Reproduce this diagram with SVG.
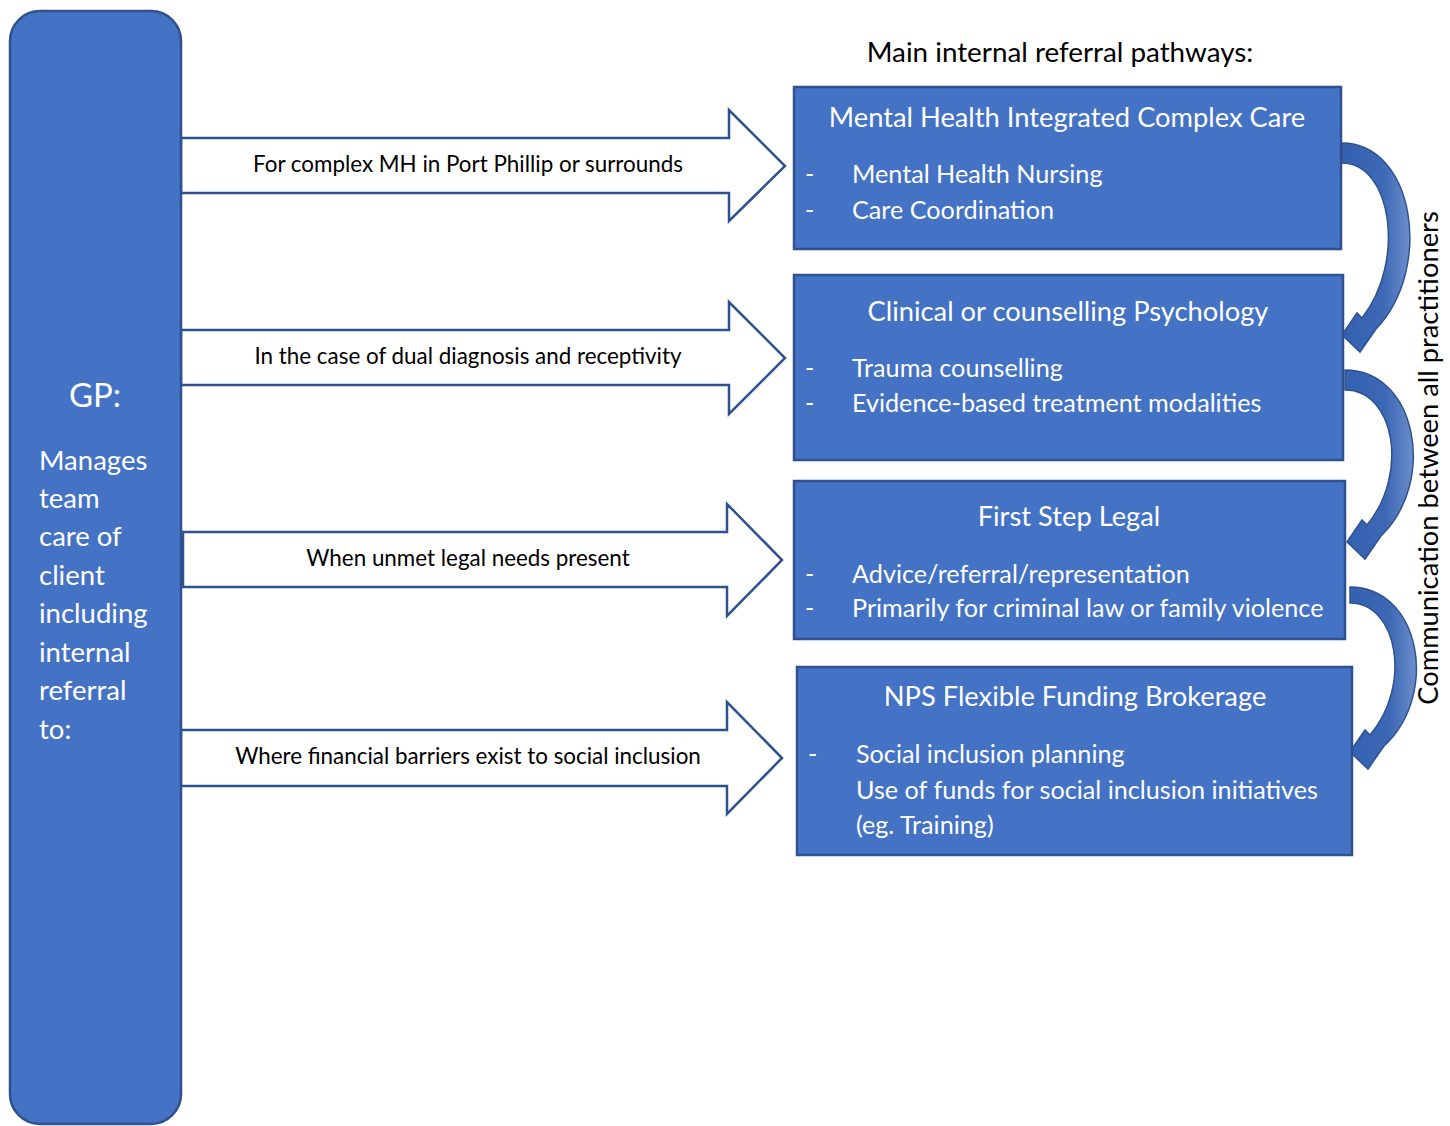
<svg xmlns="http://www.w3.org/2000/svg" width="1450" height="1126" viewBox="0 0 1450 1126">
<style>
.box{fill:#4472C4;stroke:#2F528F;stroke-width:2.5}
.arr{fill:#FFFFFF;stroke:#2F528F;stroke-width:2.5;stroke-linejoin:miter}
.curv{fill:url(#cg);stroke:#2F528F;stroke-width:1.5;stroke-linejoin:miter}
.t{font-family:Lato,"Open Sans","Liberation Sans",sans-serif;fill:#FFFFFF}
.title{font-size:27.3px;text-anchor:middle}
.item{font-size:25.2px}
.lab{font-family:Lato,"Open Sans","Liberation Sans",sans-serif;font-size:22.4px;fill:#000000;text-anchor:middle}
.blk{font-family:Lato,"Open Sans","Liberation Sans",sans-serif;fill:#000000}
</style>
<defs>
<linearGradient id="cg" x1="0" y1="0" x2="1" y2="0">
<stop offset="0" stop-color="#3461B0"/>
<stop offset="0.6" stop-color="#3C68B5"/>
<stop offset="1" stop-color="#6D8ECB"/>
</linearGradient>
</defs>
<rect width="1450" height="1126" fill="#FFFFFF"/>
<g id="connectors">
<polygon class="arr" points="181,138 729,138 729,110 785,166 729,221 729,193 181,193"/>
<polygon class="arr" points="181,330 729,330 729,302 785,358 729,414 729,385 181,385"/>
<polygon class="arr" points="183,532 727,532 727,504 782,560 727,616 727,587 183,587"/>
<polygon class="arr" points="181,730 727,730 727,702 782,758 727,814 727,786 181,786"/>
<path class="curv" d="M1342,143 C1414,143 1434,268 1376,329 L1360,352 L1342,335 L1357,313 L1362,318 C1406,262 1392,163 1342,163 Z"/>
<path class="curv" d="M1345,370 C1417,370 1437,482 1381,536 L1365,559 L1347,542 L1362,520 L1367,525 C1409,474 1395,390 1345,390 Z"/>
<path class="curv" d="M1350,587 C1420,587 1440,694 1384,746 L1368,769 L1350,752 L1365,730 L1370,735 C1412,686 1398,603 1350,603 Z"/>
</g>
<g id="gp">
<rect class="box" x="10" y="11" width="171" height="1113" rx="30" ry="30"/>
<text class="t" x="95" y="407" font-size="33" text-anchor="middle">GP:</text>
<text class="t" font-size="27.5">
<tspan x="39" y="470">Manages</tspan>
<tspan x="39" y="508">team</tspan>
<tspan x="39" y="546">care of</tspan>
<tspan x="39" y="585">client</tspan>
<tspan x="39" y="623">including</tspan>
<tspan x="39" y="662">internal</tspan>
<tspan x="39" y="700">referral</tspan>
<tspan x="39" y="739">to:</tspan>
</text>
</g>
<g id="heading">
<text class="blk" x="1060" y="62" font-size="27.8" text-anchor="middle">Main internal referral pathways:</text>
</g>
<g id="vertical-label">
<text class="blk" font-size="27.3" text-anchor="middle" transform="translate(1438,458) rotate(-90)">Communication between all practitioners</text>
</g>
<g id="labels">
<text class="lab" x="468" y="172">For complex MH in Port Phillip or surrounds</text>
<text class="lab" x="468" y="364">In the case of dual diagnosis and receptivity</text>
<text class="lab" x="468" y="566">When unmet legal needs present</text>
<text class="lab" x="468" y="764">Where financial barriers exist to social inclusion</text>
</g>
<g id="mhicc">
<rect class="box" x="794" y="87" width="547" height="162"/>
<text class="t title" x="1067" y="127">Mental Health Integrated Complex Care</text>
<text class="t item" x="805" y="183">-</text>
<text class="t item" x="852" y="183">Mental Health Nursing</text>
<text class="t item" x="805" y="219">-</text>
<text class="t item" x="852" y="219">Care Coordination</text>
</g>
<g id="psychology">
<rect class="box" x="794" y="275" width="549" height="185"/>
<text class="t title" x="1068" y="321">Clinical or counselling Psychology</text>
<text class="t item" x="805" y="377">-</text>
<text class="t item" x="852" y="377">Trauma counselling</text>
<text class="t item" x="805" y="412">-</text>
<text class="t item" x="852" y="412">Evidence-based treatment modalities</text>
</g>
<g id="legal">
<rect class="box" x="794" y="481" width="551" height="158"/>
<text class="t title" x="1069" y="526">First Step Legal</text>
<text class="t item" x="805" y="583">-</text>
<text class="t item" x="852" y="583">Advice/referral/representation</text>
<text class="t item" x="805" y="617">-</text>
<text class="t item" x="852" y="617">Primarily for criminal law or family violence</text>
</g>
<g id="nps">
<rect class="box" x="797" y="667" width="555" height="188"/>
<text class="t title" x="1075" y="706">NPS Flexible Funding Brokerage</text>
<text class="t item" x="808" y="763">-</text>
<text class="t item" x="856" y="763">Social inclusion planning</text>
<text class="t item" x="856" y="799">Use of funds for social inclusion initiatives</text>
<text class="t item" x="856" y="834">(eg. Training)</text>
</g>
</svg>
